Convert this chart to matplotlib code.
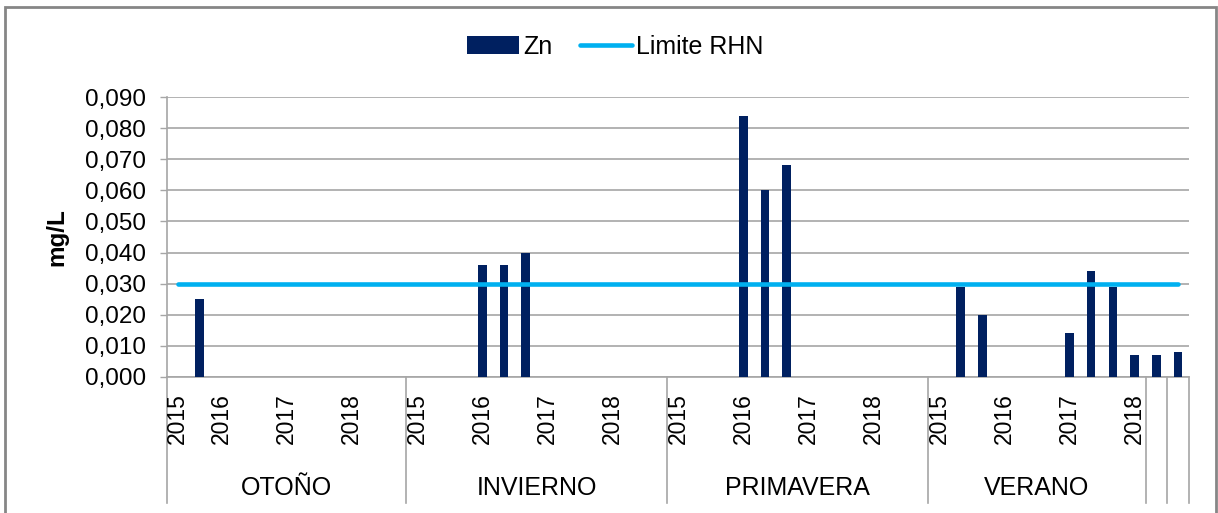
import matplotlib
matplotlib.use('Agg')
import matplotlib.pyplot as plt
from matplotlib.lines import Line2D
from matplotlib.patches import Rectangle

plt.rcParams['font.family'] = ['Liberation Sans', 'DejaVu Sans']

# datos: una categoria por campaña de muestreo
seasons = ['OTOÑO', 'INVIERNO', 'PRIMAVERA', 'VERANO', '', '']
season_sizes = [11, 12, 12, 10, 1, 1]

year_labels = ['2015', '', '2016', '', '', '2017', '', '', '2018', '', '',
               '2015', '', '', '2016', '', '', '2017', '', '', '2018', '', '',
               '2015', '', '', '2016', '', '', '2017', '', '', '2018', '', '',
               '2015', '', '', '2016', '', '', '2017', '', '', '2018',
               '',
               '']

zn = [None, 0.025, None, None, None, None, None, None, None, None, None,
      None, None, None, 0.036, 0.036, 0.040, None, None, None, None, None, None,
      None, None, None, 0.084, 0.060, 0.068, None, None, None, None, None, None,
      None, 0.029, 0.020, None, None, None, 0.014, 0.034, 0.029, 0.007,
      0.007,
      0.008]

limite_rhn = 0.030

n = len(zn)
x = list(range(n))
bar_x = [i for i in x if zn[i] is not None]
bar_y = [zn[i] for i in x if zn[i] is not None]

W, H = 1218, 513
fig = plt.figure(figsize=(W / 100, H / 100), dpi=100)
fig.patches.append(Rectangle((5 / W, -0.05), 1211 / W, 1.05 - 7 / H, transform=fig.transFigure,
                             fill=False, edgecolor='#868686', linewidth=2))

ax = fig.add_axes([167 / W, 1 - 377 / H, (1189 - 167) / W, (377 - 97) / H])

gray = '#A6A6A6'
bars = ax.bar(bar_x, bar_y, width=0.4, color='#002060', zorder=3, label='Zn')
line, = ax.plot(x, [limite_rhn] * n, color='#00B0F0', linewidth=3.3, zorder=4,
                solid_capstyle='round', label='Limite RHN')

ax.set_xlim(-0.5, n - 0.5)
ax.set_ylim(0, 0.09)
yt = [i / 100 for i in range(10)]
ax.set_yticks(yt)
ax.set_yticklabels([f'{v:.3f}'.replace('.', ',') for v in yt], fontsize=17.5)
ax.tick_params(axis='y', length=5, width=1, color=gray, pad=10)
ax.set_xticks([])
ax.grid(axis='y', color=gray, linewidth=1.2, zorder=0)
for s in ['top', 'right']:
    ax.spines[s].set_visible(False)
for s in ['left', 'bottom']:
    ax.spines[s].set_color(gray)
    ax.spines[s].set_linewidth(1.2)

ax.set_ylabel('mg/L', fontsize=17.5, fontweight='bold', labelpad=12)

# etiquetas de año y estación (eje de varios niveles)
tr = ax.get_xaxis_transform()
for i, lab in enumerate(year_labels):
    if lab:
        ax.annotate(lab, xy=(i, 0), xycoords=tr, xytext=(0, -11.5), textcoords='offset points',
                    rotation=90, ha='center', va='top', fontsize=16.5)

bounds = [-0.5]
for size in season_sizes:
    bounds.append(bounds[-1] + size)
for k, name in enumerate(seasons):
    mid = (bounds[k] + bounds[k + 1]) / 2
    if name:
        ax.annotate(name, xy=(mid, 0), xycoords=tr, xytext=(0, -80), textcoords='offset points',
                    ha='center', va='center', fontsize=18)
for b in bounds:
    ax.add_line(Line2D([b, b], [0, -126 / 280], transform=tr, color=gray, linewidth=1.2, clip_on=False))

fig.legend(handles=[bars, line], loc='center', bbox_to_anchor=(615 / W, 1 - 47 / H), ncol=2,
           frameon=False, fontsize=18, handlelength=2.1, handletextpad=0.15, columnspacing=1.1)

fig.savefig('out.png', dpi=100)
